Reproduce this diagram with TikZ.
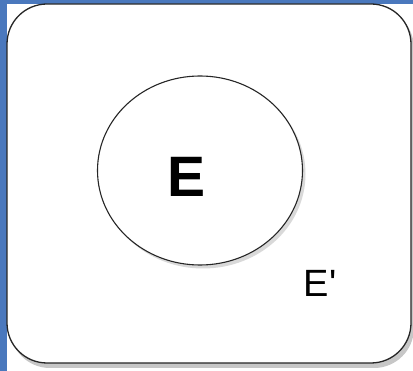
\documentclass[tikz,border=0pt]{standalone}
\usepackage{fontspec}
\setmainfont{Liberation Sans}
\usetikzlibrary{shapes.geometric}
\definecolor{bgblue}{HTML}{4A78BD}
\tikzset{
  panel/.style={draw=black!85, line width=1.3pt, fill=white, rounded corners=40pt},
  setshape/.style={draw=black!85, line width=1.1pt, fill=white, ellipse, minimum width=205pt, minimum height=189pt, inner sep=0pt},
}
\begin{document}
\begin{tikzpicture}[x=1pt,y=-1pt]
\useasboundingbox (0,0) rectangle (413,371);
\fill[bgblue] (0,0) rectangle (413,371);
\fill[white] (7,4) rectangle (413,371);
\fill[black!22, rounded corners=40pt] (10,8) rectangle (414,368);
\draw[panel] (7,4) rectangle (411,363);
\fill[black!15] (203,174) ellipse [x radius=102.5, y radius=94.5];
\node[setshape] (E) at (200,170.5) {};
\node[font=\bfseries\fontsize{57}{60}\selectfont] (Elabel) at (187,176.5) {E};
\node[font=\fontsize{38}{40}\selectfont] (Ep) at (320,283) {E\textquotesingle};
\end{tikzpicture}
\end{document}
